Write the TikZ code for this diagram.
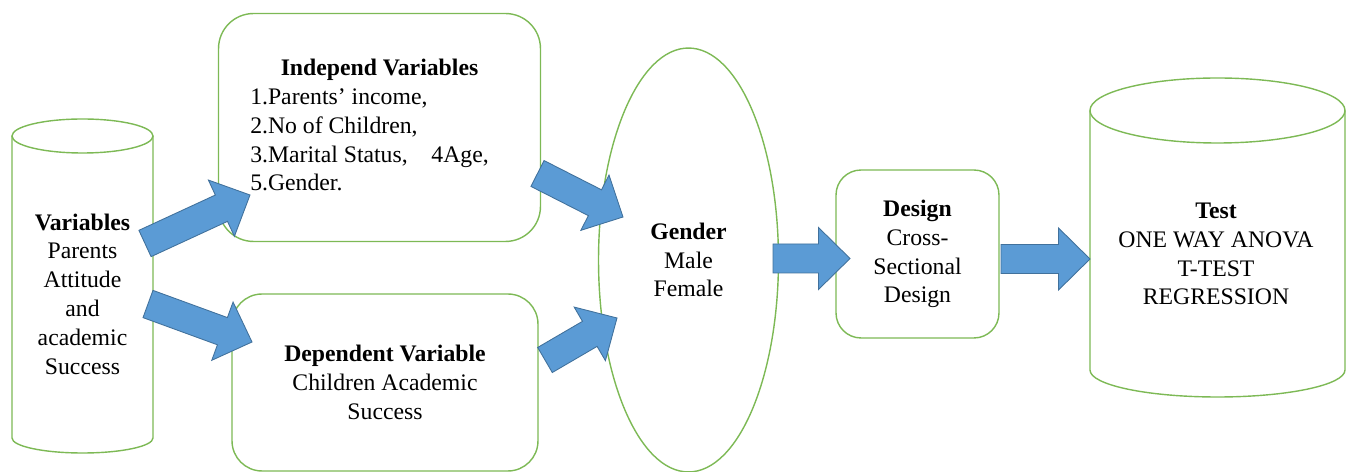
\documentclass[tikz,border=0pt]{standalone}
\usepackage{fontspec}
\setmainfont{Liberation Serif}
\usetikzlibrary{calc,shapes.geometric}

\definecolor{boxgreen}{RGB}{125,185,85}
\definecolor{arrowblue}{RGB}{91,155,213}
\definecolor{arrowdark}{RGB}{65,113,156}

\newcommand{\shafthw}{0.29cm}
\newcommand{\headhw}{0.62cm}
\newcommand{\headlen}{0.63cm}
% fat block arrow from #1 (tail) to #2 (tip)
\newcommand{\blockarrow}[2]{%
  \coordinate (neck) at ($(#2)!\headlen!(#1)$);
  \filldraw[blockarrow] ($(#1)!\shafthw!90:(#2)$) -- ($(neck)!\shafthw!-90:(#1)$)
    -- ($(neck)!\headhw!-90:(#1)$) -- (#2) -- ($(neck)!\headhw!90:(#1)$)
    -- ($(neck)!\shafthw!90:(#1)$) -- ($(#1)!\shafthw!-90:(#2)$) -- cycle;}

\begin{document}
\begin{tikzpicture}[x=0.02cm,y=-0.02cm,
thin]
\tikzstyle{every node}=[font=\fontsize{13.5}{16.4}\selectfont, align=center, text=black]
\tikzstyle{greenline}=[draw=boxgreen, line width=0.8pt]
\tikzstyle{roundbox}=[greenline, rectangle, rounded corners=0.7cm]
\tikzstyle{blockarrow}=[fill=arrowblue, draw=arrowdark, line width=0.5pt, line join=miter]

\useasboundingbox (0,0) rectangle (1347,472);

% left cylinder
\draw[greenline] (82.5,136) ellipse (70.5 and 17);
\draw[greenline] (12,136) -- (12,438) arc[start angle=180, end angle=0, x radius=70.5, y radius=15] -- (153,136);
\node (vars) at (82.5,294) {\textbf{Variables}\\Parents\\Attitude\\and\\academic\\Success};

% boxes
\node[roundbox, minimum width=6.44cm, minimum height=4.56cm] (indep) at (379.5,127.5)
  {\begin{tabular}{@{}l@{\hspace{0.4cm}}}\multicolumn{1}{c}{\textbf{Independ Variables}}\\
   1.Parents’ income,\\2.No of Children,\\3.Marital Status,\quad 4Age,\\5.Gender.\end{tabular}};
\node[roundbox, rounded corners=0.6cm, minimum width=6.12cm, minimum height=3.54cm] (dep) at (385,382.5)
  {\textbf{Dependent Variable}\\Children Academic\\Success};
\node[greenline, ellipse, minimum width=3.6cm, minimum height=8.48cm, inner sep=0pt] (gender) at (688.5,260)
  {\textbf{Gender}\\Male\\Female};
\node[roundbox, rounded corners=0.5cm, minimum width=3.26cm, minimum height=3.36cm] (design) at (917.5,254)
  {\textbf{Design}\\Cross-\\Sectional\\Design};

% right cylinder
\draw[greenline] (1217.5,110.5) ellipse (127.5 and 32.5);
\draw[greenline] (1090,110.5) -- (1090,370) arc[start angle=180, end angle=0, x radius=127.5, y radius=27] -- (1345,110.5);
\node (test) at (1216,254) {\textbf{Test}\\ONE WAY ANOVA\\T-TEST\\REGRESSION};

% arrow ends
\coordinate (t1) at (145,243.5);  \coordinate (h1) at (250,195);
\coordinate (t2) at (148,304);    \coordinate (h2) at (252,342);
\coordinate (t3) at (537.5,173.5); \coordinate (h3) at (623,217);
\coordinate (t4) at (545,360);    \coordinate (h4) at (617,318);
\coordinate (t5) at (773,258.5);  \coordinate (h5) at (850,258.5);
\coordinate (t6) at (1001,259);   \coordinate (h6) at (1090,259);

\blockarrow{t1}{h1}
\blockarrow{t2}{h2}
\blockarrow{t3}{h3}
\blockarrow{t4}{h4}
\blockarrow{t5}{h5}
\blockarrow{t6}{h6}
\end{tikzpicture}
\end{document}
